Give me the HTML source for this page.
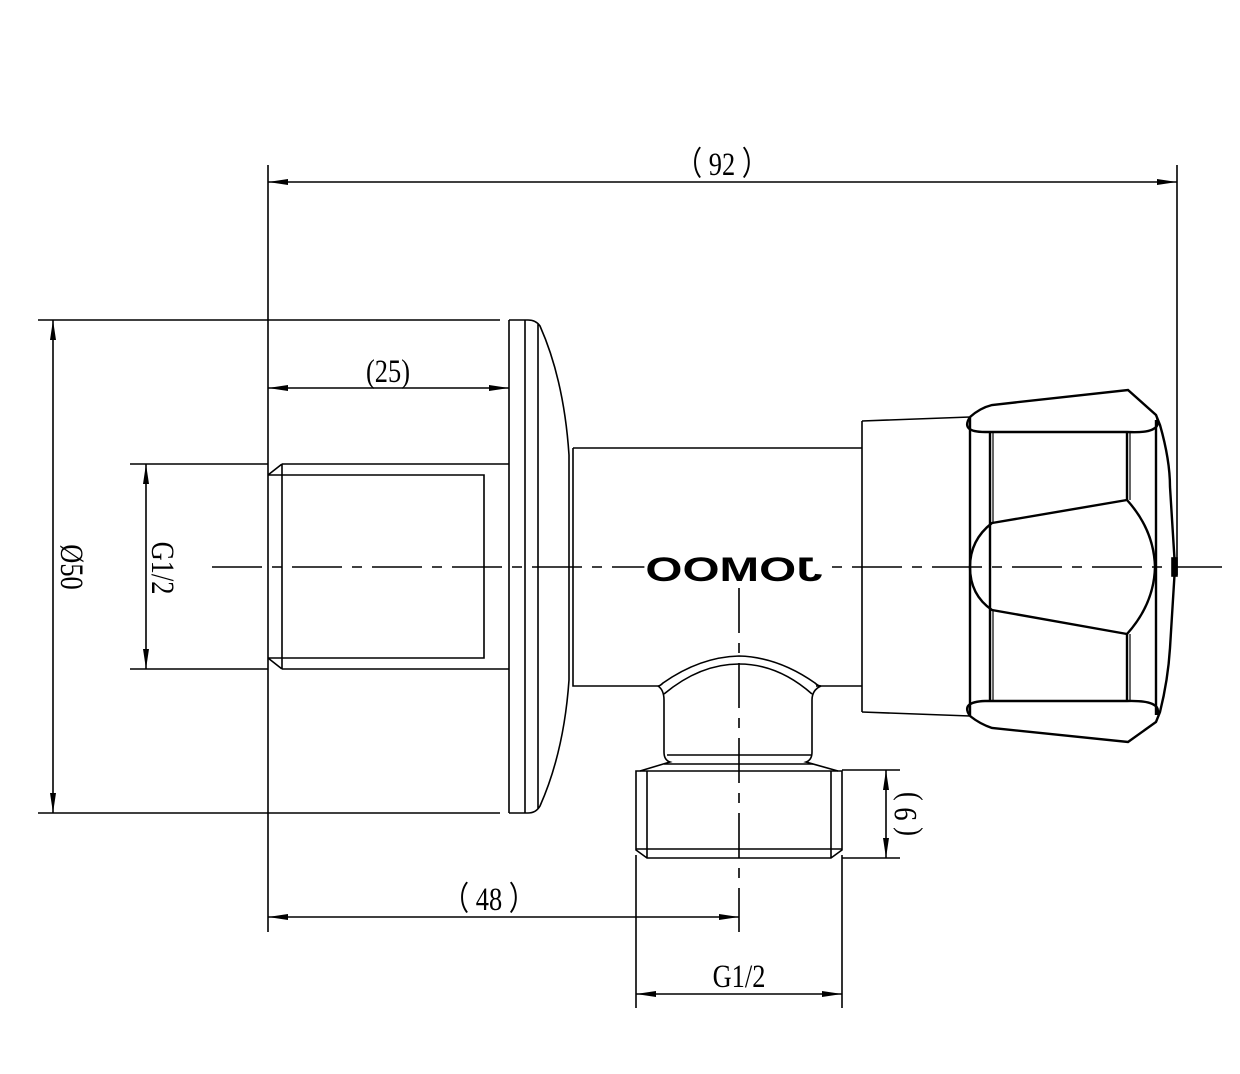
<!DOCTYPE html>
<html><head><meta charset="utf-8"><style>html,body{margin:0;padding:0;background:#fff}svg{display:block}
text{font-family:"Liberation Serif",serif;font-size:33px;fill:#000}</style></head><body>
<svg width="1240" height="1074" viewBox="0 0 1240 1074" xmlns="http://www.w3.org/2000/svg">
<defs>
<marker id="a" viewBox="0 0 20 6" refX="20" refY="3" markerWidth="20" markerHeight="6" markerUnits="userSpaceOnUse" orient="auto-start-reverse"><path d="M0,0 L20,3 L0,6 z" fill="#000"/></marker>
</defs>
<g stroke="#000" fill="none" stroke-width="1.6">
<line x1="268" y1="165" x2="268" y2="932"/>
<line x1="1177" y1="165" x2="1177" y2="575"/>
<line x1="38" y1="320" x2="500" y2="320"/>
<line x1="38" y1="813" x2="500" y2="813"/>
<line x1="130" y1="464" x2="268" y2="464"/>
<line x1="130" y1="669" x2="268" y2="669"/>
<line x1="636" y1="855" x2="636" y2="1008"/>
<line x1="842" y1="855" x2="842" y2="1008"/>
<line x1="842" y1="770" x2="900" y2="770"/>
<line x1="842" y1="858" x2="900" y2="858"/>
<line x1="268" y1="182" x2="1177" y2="182" marker-start="url(#a)" marker-end="url(#a)"/>
<line x1="268" y1="388" x2="509" y2="388" marker-start="url(#a)" marker-end="url(#a)"/>
<line x1="53" y1="320" x2="53" y2="813" marker-start="url(#a)" marker-end="url(#a)"/>
<line x1="146" y1="464" x2="146" y2="669" marker-start="url(#a)" marker-end="url(#a)"/>
<line x1="268" y1="917" x2="739" y2="917" marker-start="url(#a)" marker-end="url(#a)"/>
<line x1="636" y1="994" x2="842" y2="994" marker-start="url(#a)" marker-end="url(#a)"/>
<line x1="886" y1="770" x2="886" y2="858" marker-start="url(#a)" marker-end="url(#a)"/>
<line x1="212" y1="567" x2="1222" y2="567" stroke-dasharray="50,10,10,10"/>
<line x1="739" y1="588" x2="739" y2="932" stroke-dasharray="45,10,10,10"/>
<path d="M282,464 L509,464 M282,669 L509,669 M268,475 L484,475 L484,658 L268,658 M282,464 L268,475 M282,669 L268,658 M282,464 L282,669"/>
<path d="M509,320 L509,813 M525,320 L525,813 M538,324 L538,809 M509,320 L528,320 Q536,320 540,326 Q564,380 569,455 L569,680 Q564,752 540,806 Q536,813 528,813 L509,813"/>
<path d="M573,448 L862,448 M573,448 L573,686 L658,686 M816,686 L862,686 M862,421 L862,712"/>
<path d="M862,421 L970,417 M862,712 L970,716"/>
<path d="M658,686 Q660,686 663,683 Q700,657 739,656 Q778,657 815,683 Q818,686 821,686"/>
<path d="M664,694 Q700,664 739,664 Q778,664 812,694"/>
<path d="M658,686 Q664,690 664,700 L664,752 Q664,760 670,762 L640,771 M821,686 Q812,690 812,700 L812,752 Q812,760 806,762 L838,771"/>
<path d="M667,755 L811,755 M664,764 L813,764"/>
<path d="M636,771 L842,771 L842,850 L831,858 L647,858 L636,850 Z M647,771 L647,858 M831,771 L831,858 M636,849 L842,849"/>
<g stroke-width="2.4">
<path d="M970,417 Q980,408 992,405 L1128,390 L1156,415 L1160,425 Q1170,460 1170,487 L1175,567 L1170,648 Q1168,680 1160,712 L1156,722 L1128,742 L992,728 Q980,724 970,716"/>
<path d="M970,417 Q960,432 985,432 L1127,432 Q1163,434 1157,418"/>
<path d="M970,716 Q960,702 985,701 L1127,701 Q1163,700 1157,715"/>
<path d="M970,417 L970,716 M1156,420 L1156,715 M990,432 L990,701 M1127,432 L1127,500 M1127,634 L1127,701"/>
<path d="M992,523 L1127,500 Q1154,530 1155,567 Q1154,604 1127,634 L992,610 Q970,595 970,567 Q970,540 992,523 Z"/>
</g>
<path d="M993,432 L993,523 M993,610 L993,701 M1130,432 L1130,500 M1130,634 L1130,701" stroke-width="1.2"/>
<rect x="1172" y="558" width="5" height="18" fill="#000"/>
</g>
<g transform="translate(734,569) scale(-1.4,1)"><rect x="-64" y="-14" width="128" height="28" fill="#fff"/>
<text x="0" y="12" text-anchor="middle" style="font-family:'Liberation Sans',sans-serif;font-weight:bold;font-size:34px">JOMOO</text></g>
<text x="722" y="175" text-anchor="middle" transform="translate(722 0) scale(0.8 1) translate(-722 0)">（ 92 ）</text>
<text x="388" y="382" text-anchor="middle" transform="translate(388 0) scale(0.8 1) translate(-388 0)">(25)</text>
<text x="489" y="910" text-anchor="middle" transform="translate(489 0) scale(0.8 1) translate(-489 0)">（ 48 ）</text>
<text x="739" y="987" text-anchor="middle" transform="translate(739 0) scale(0.8 1) translate(-739 0)">G1/2</text>
<text transform="translate(152,568) rotate(90) scale(0.8 1)" text-anchor="middle">G1/2</text>
<text transform="translate(61,567) rotate(90) scale(0.8 1)" text-anchor="middle">Ø50</text>
<text transform="translate(916,814) rotate(-90) scale(0.8 1)" text-anchor="middle">( 9 )</text>
</svg>
</body></html>
